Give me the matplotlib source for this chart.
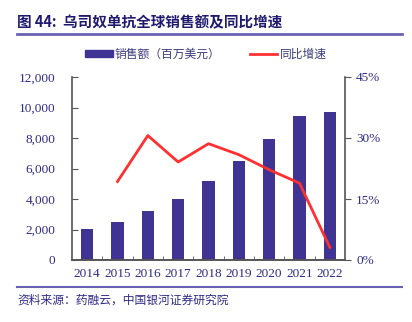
import matplotlib.pyplot as plt
from matplotlib.ticker import FuncFormatter, FixedLocator
from matplotlib.lines import Line2D
from matplotlib.patches import Patch

years = ['2014', '2015', '2016', '2017', '2018', '2019', '2020', '2021', '2022']
sales = [2060, 2470, 3220, 4000, 5170, 6480, 7930, 9420, 9700]
growth_years = ['2015', '2016', '2017', '2018', '2019', '2020', '2021', '2022']
growth = [19.3, 30.6, 24.1, 28.6, 25.9, 22.2, 18.9, 3.1]

cjk = ['Noto Sans CJK SC', 'DejaVu Sans']
num_font = 'Liberation Serif'
navy = '#2e2a86'
bar_color = '#3f3393'
line_color = '#ff3030'
rule_color = '#6a62b0'
axis_color = '#555555'

fig = plt.figure(figsize=(4.12, 3.22), dpi=100)
ax = fig.add_axes([72 / 412, 1 - 260 / 322, 273 / 412, 183 / 322])

x = list(range(len(years)))
ax.bar(x, sales, width=0.4, color=bar_color, zorder=2)
ax.set_xlim(-0.5, len(years) - 0.5)
ax.set_ylim(0, 12000)
ax.set_yticks(range(0, 12001, 2000))
ax.yaxis.set_major_formatter(FuncFormatter(lambda v, p: f'{int(v):,}'))
ax.set_xticks(x)
ax.set_xticklabels(years)
ax.xaxis.set_minor_locator(FixedLocator([i + 0.5 for i in x[:-1]]))
ax.tick_params(axis='x', which='major', length=0, pad=6)
ax.tick_params(axis='x', which='minor', length=3, direction='in', color=axis_color)
ax.tick_params(axis='y', direction='in', length=4, color=axis_color, pad=12)

ax2 = ax.twinx()
gx = [years.index(y) for y in growth_years]
ax2.plot(gx, growth, color=line_color, lw=2, zorder=3)
ax2.set_ylim(0, 45)
ax2.set_yticks([0, 15, 30, 45])
ax2.yaxis.set_major_formatter(FuncFormatter(lambda v, p: f'{int(v)}%'))
ax2.tick_params(axis='y', direction='out', length=4, color=axis_color, pad=4)

for a in (ax, ax2):
    a.spines['top'].set_visible(False)
    for s in ('left', 'right', 'bottom'):
        a.spines[s].set_color(axis_color)
        a.spines[s].set_linewidth(1.2)
    for lab in a.get_xticklabels() + a.get_yticklabels():
        lab.set_fontfamily(num_font)
        lab.set_color(navy)
        lab.set_fontsize(9.5)
ax2.spines['left'].set_visible(False)
ax.spines['right'].set_visible(False)

# title and rules
fig.text(17 / 412, 1 - 22 / 322, '图 44:  乌司奴单抗全球销售额及同比增速', family=cjk,
         fontsize=10.5, fontweight='bold', color='#1f1a6e', va='center', ha='left')
fig.add_artist(Line2D([17 / 412, 402 / 412], [1 - 34 / 322] * 2, color=rule_color, lw=2))
fig.add_artist(Line2D([17 / 412, 402 / 412], [1 - 287 / 322] * 2, color=rule_color, lw=1.5))
fig.text(17 / 412, 1 - 300 / 322, '资料来源：药融云，中国银河证券研究院', family=cjk,
         fontsize=8.5, style='italic', color='#2e2a86', va='center', ha='left')

# legend
handles = [Patch(color=bar_color), Line2D([], [], color=line_color, lw=2)]
leg = fig.legend(handles, ['销售额（百万美元）', '同比增速'], loc='center',
                 bbox_to_anchor=(0.5, 1 - 54 / 322), ncol=2, frameon=False,
                 prop={'family': cjk, 'size': 8.5}, handlelength=2.3, handleheight=0.6,
                 columnspacing=2.5, handletextpad=0.2)
for t in leg.get_texts():
    t.set_color('#3a3a7a')

fig.savefig('out.png', dpi=100)
